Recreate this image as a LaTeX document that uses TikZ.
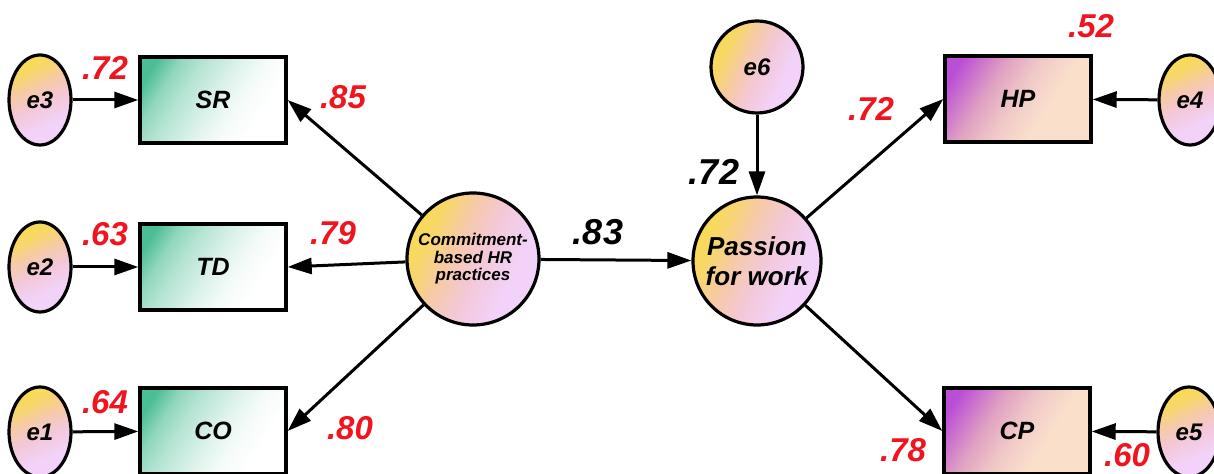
\documentclass[tikz,border=0pt]{standalone}
\usepackage{fontspec}
\setmainfont{Liberation Sans}
\usetikzlibrary{arrows.meta,shapes.geometric}
\definecolor{errtop}{HTML}{F8DC50}
\definecolor{errorange}{HTML}{F6CAA8}
\definecolor{errmid}{HTML}{F3C8D8}
\definecolor{errbot}{HTML}{F2D2F8}
\definecolor{tealfill}{HTML}{4CBE95}
\definecolor{purpfill}{HTML}{BC4ED6}
\definecolor{pinkfill}{HTML}{E0A2C2}
\definecolor{peachfill}{HTML}{FADFCB}
\definecolor{lblred}{HTML}{F0141E}
% diagonal fades used by the nodes (low end = far corner, high end = top-left)
\pgfdeclareverticalshading{errshade}{100bp}{color(0bp)=(errbot); color(34bp)=(errbot);
  color(47bp)=(errmid); color(58bp)=(errorange); color(68bp)=(errtop!70!errorange);
  color(76bp)=(errtop); color(100bp)=(errtop)}
\pgfdeclareverticalshading{tealshade}{100bp}{color(0bp)=(white); color(30bp)=(white);
  color(40bp)=(tealfill!6!white); color(50bp)=(tealfill!20!white); color(62bp)=(tealfill!42!white);
  color(70bp)=(tealfill!62!white); color(78bp)=(tealfill); color(100bp)=(tealfill)}
\pgfdeclareverticalshading{purpshade}{100bp}{color(0bp)=(peachfill); color(38bp)=(peachfill);
  color(50bp)=(pinkfill!35!peachfill); color(62bp)=(pinkfill);
  color(70bp)=(purpfill!50!pinkfill); color(78bp)=(purpfill); color(100bp)=(purpfill)}
\tikzset{
  errnode/.style={ellipse, draw, line width=1.6pt, minimum width=31pt,
    minimum height=45pt, inner sep=0pt, shading=errshade, shading angle=25,
    font=\bfseries\itshape\fontsize{12}{12}\selectfont},
  indbox/.style={rectangle, draw, line width=1.7pt, minimum width=73pt,
    minimum height=43pt, inner sep=0pt, shading=tealshade,
    shading angle=58, font=\bfseries\itshape\fontsize{12.5}{12.5}\selectfont},
  depbox/.style={rectangle, draw, line width=1.7pt, minimum width=73pt,
    minimum height=43pt, inner sep=0pt, shading=purpshade,
    shading angle=58, font=\bfseries\itshape\fontsize{12.5}{12.5}\selectfont},
  latent/.style={circle, draw, line width=1.6pt, inner sep=0pt,
    shading=errshade, shading angle=65, align=center},
  arr/.style={-{Triangle[length=12pt,width=8pt]}, line width=1.5pt},
  lbl/.style={text=lblred, font=\bfseries\itshape\fontsize{16.5}{16.5}\selectfont},
  pathlbl/.style={text=black, font=\bfseries\itshape\fontsize{18}{18}\selectfont}
}
\begin{document}
\begin{tikzpicture}[x=0.5pt,y=-0.5pt]
\useasboundingbox (0,0) rectangle (1214,474);

% error terms of the indicators
\node[errnode] (e3) at (40,100) {e3};
\node[errnode] (e2) at (40,267) {e2};
\node[errnode] (e1) at (40,432) {e1};

% indicators of the HR construct
\node[indbox] (SR) at (213,100) {SR};
\node[indbox] (TD) at (213,267) {TD};
\node[indbox] (CO) at (213,431) {CO};

% latent constructs
\node[latent, minimum size=66pt,
  font=\bfseries\itshape\fontsize{8.5}{8.7}\selectfont] (CHR) at (473,259)
  {Commitment-\\based HR\\practices};
\node[latent, minimum size=64pt,
  font=\bfseries\itshape\fontsize{13}{15}\selectfont] (PW) at (757,261)
  {Passion\\for work};
\node[latent, minimum size=46pt,
  font=\bfseries\itshape\fontsize{12}{12}\selectfont] (e6) at (757,67) {e6};

% outcome indicators and their errors
\node[depbox] (HP) at (1018,99) {HP};
\node[depbox] (CP) at (1017,431) {CP};
\node[errnode] (e4) at (1190,100) {e4};
\node[errnode] (e5) at (1189,432) {e5};

% paths
\draw[arr] (e3) -- (SR);
\draw[arr] (e2) -- (TD);
\draw[arr] (e1) -- (CO);
\draw[arr] (CHR) -- (SR.east);
\draw[arr] (CHR) -- (TD.east);
\draw[arr] (CHR) -- (CO.east);
\draw[arr] (CHR) -- (PW);
\draw[arr] (e6) -- (PW);
\draw[arr] (PW) -- (HP.west);
\draw[arr] (PW) -- (CP.west);
\draw[arr] (e4) -- (HP);
\draw[arr] (e5) -- (CP);

% estimates
\node[lbl] (l72a) at (105,68) {.72};
\node[lbl] (l85) at (343,97) {.85};
\node[lbl] (l63) at (105,234) {.63};
\node[lbl] (l79) at (333,233) {.79};
\node[lbl] (l64) at (105,402) {.64};
\node[lbl] (l80) at (350,428) {.80};
\node[lbl] (l72b) at (871,109) {.72};
\node[lbl] (l52) at (1091,26) {.52};
\node[lbl] (l78) at (903,450) {.78};
\node[lbl] (l60) at (1127,455) {.60};
\node[pathlbl] (l83) at (598,232) {.83};
\node[pathlbl] (l72c) at (714,172) {.72};
\end{tikzpicture}
\end{document}
